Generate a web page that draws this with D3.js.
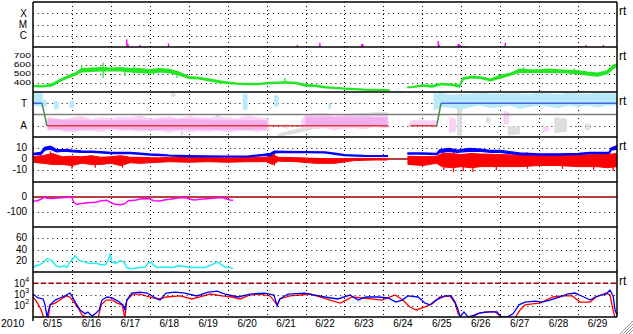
<!DOCTYPE html>
<html>
<head>
<meta charset="utf-8">
<script src="https://cdn.jsdelivr.net/npm/d3@7"></script>
<style>
body { margin: 0; background: #fff; }
svg { display: block; font-family: "Liberation Sans", Arial, sans-serif; }
</style>
</head>
<body>
<script>
// ---- data (time in days from 6/15 00:00) ----
var dayLabels = ['6/15','6/16','6/17','6/18','6/19','6/20','6/21','6/22','6/23','6/24','6/25','6/26','6/27','6/28','6/29'];
var yearLabel = '2010';

// x-ray flares: [t, peak flux W/m2]
var flares = [[2.41,4.8e-7],[2.44,1.9e-7],[2.75,1.5e-7],[3.48,2.1e-7],[3.72,1.2e-7],[6.79,1.5e-7],[7.37,2.3e-7],
  [7.78,1.2e-7],[8.44,1.85e-7],[8.47,1.85e-7],[8.50,1.2e-7],[10.41,3.4e-7],[10.44,1.5e-7],[10.92,1.85e-7],
  [10.94,1.85e-7],[10.97,1.5e-7],[11.10,1.2e-7],[12.13,2.3e-7],[14.20,1.5e-7],[14.65,1.5e-7]];
var flareTicks = [['X',1e-4],['M',1e-5],['C',1e-6]];

// solar wind speed: [t, lo, hi]
var speed = [[0,360,372],[0.25,358,368],[0.5,372,392],[0.75,432,448],[1.0,475,498],[1.1,492,512],[1.25,525,555],
  [1.5,530,565],[1.75,535,570],[2.0,535,565],[2.25,535,570],[2.5,525,560],[2.75,520,560],[3.0,510,545],
  [3.25,525,560],[3.5,515,550],[3.75,490,520],[4.0,452,470],[4.25,446,462],[4.5,428,446],[4.75,408,426],
  [5.0,394,408],[5.25,387,398],[5.5,384,396],[5.75,382,393],[6.0,392,403],[6.25,400,410],[6.5,400,412],
  [6.75,394,406],[7.0,366,384],[7.25,364,376],[7.5,347,360],[7.75,340,350],[8.0,332,343],[8.25,327,336],
  [8.5,322,330],[8.75,320,327],[9.0,318,325],[9.15,317,323],null,[9.63,347,356],[9.75,352,360],[10.0,367,378],
  [10.25,355,372],[10.5,382,395],[10.75,374,388],[10.95,355,375],[11.05,442,458],[11.25,457,472],
  [11.5,452,468],[11.75,425,442],[12.0,455,485],[12.25,485,505],[12.5,520,552],[12.75,518,545],
  [13.0,518,545],[13.25,520,552],[13.5,515,545],[13.75,512,540],[14.0,505,535],[14.25,488,520],
  [14.5,476,508],[14.75,505,535],[14.9,560,595],[15.0,590,612]];
// isolated speed spikes: [t, lo, hi]
var speedSpikes = [[0.44,352,390],[1.25,520,600],[1.8,455,625],[2.36,478,560],[2.6,500,590],[3.1,490,560],
  [3.7,455,520],[6.47,402,452],[12.6,505,575],[13.9,495,560]];
var speedTicks = [700,600,500,400];

// IMF sector line: [t, phi]
var sector = [[0,315],[0.23,315],[0.36,135],[9.12,135],null,[9.68,135],[10.37,135],[10.48,315],[15,315]];
// phi scatter envelopes: [t, lo, hi]
var phiPink = [[0.31,140,160],[0.4,95,205],[0.6,110,190],[0.8,90,180],[1.0,85,200],[1.25,100,210],[1.5,95,185],
  [1.75,90,200],[2.0,110,190],[2.25,95,205],[2.5,100,200],[2.75,90,215],[3.0,100,190],[3.25,95,200],
  [3.5,85,205],[3.75,100,190],[4.0,85,210],[4.25,95,200],[4.5,90,195],[4.75,100,205],[5.0,85,200],
  [5.25,95,190],[5.5,100,215],[5.75,90,200],[6.05,100,190],null,[6.45,120,140],[6.55,115,145],null,
  [6.9,110,180],[7.0,130,220],[7.25,110,230],[7.5,120,235],[7.75,100,210],[8.0,115,220],[8.25,120,230],
  [8.5,110,200],[8.75,130,220],[9.0,120,215],[9.12,125,205],null,[9.68,150,170],[9.9,140,180],
  [10.1,145,175],[10.37,140,175],null,[10.7,80,200],[10.85,90,190],null,[12.1,150,250],[12.22,150,240],
  null,[13.1,90,130],[13.25,95,125]];
// denser core of the pink scatter: [t, lo, hi]
var phiPinkCore = [[0.4,110,185],[1.0,105,180],[2.0,115,175],[3.0,105,180],[4.0,110,185],[5.0,105,175],
  [6.0,110,175],null,[7.0,140,205],[8.0,140,205],[9.1,135,200]];
var phiBlue = [[0,300,395],[0.25,290,390],null,[0.28,290,340],[0.35,295,335],null,[0.55,270,330],[0.65,275,325],
  null,[0.95,280,330],[1.05,285,325],null,[5.4,260,390],[5.5,270,385],null,[6.2,290,380],[6.3,295,370],null,
  [7.6,270,310],[7.65,275,305],null,[10.3,260,390],[10.5,290,395],[10.75,280,380],[11.0,270,385],
  [11.25,290,390],[11.5,300,395],[11.75,280,390],[12.0,290,385],[12.25,300,395],[12.5,275,390],
  [12.75,290,385],[13.0,300,395],[13.25,290,390],[13.5,280,385],[13.75,300,395],[14.0,290,390],
  [14.25,300,385],[14.5,285,395],[14.75,300,390],[15,300,390]];
var phiGray = [[3.55,370,395],[3.65,372,392],null,[3.8,60,90],[3.85,62,88],null,[4.7,150,230],[4.8,155,225],null,
  [5.5,100,200],[5.6,105,195],null,[6.3,50,70],[6.8,80,110],[7.3,120,160],[7.8,170,210],[8.3,200,230],
  [8.8,210,240],[9.1,215,240],null,[10.9,60,380],[11.0,60,370],null,[11.65,160,200],[11.75,165,195],null,
  [12.2,60,130],[12.5,70,125],null,[13.4,80,200],[13.7,90,190],null,[14.2,100,150],[14.3,105,145]];
var phiTicks = [['T',315],['A',135]];

// IMF Bt and Bz: [t, lo, hi]
var bt = [[0,4,5],[0.2,4,6],[0.3,8,10.5],[0.45,9,11.5],[0.6,6.5,8.5],[0.75,7,8.5],[0.9,7,8.5],[1.0,6.5,8],
  [1.25,6,7.2],[1.5,6,7],[1.75,5.5,6.5],[2.0,5,6],[2.5,5,6],[3.0,3.5,4.5],[3.25,3,4],[3.5,2.8,3.5],[4.0,2,3],
  [4.5,2,2.8],[5.0,2,2.5],[5.5,2,2.5],[5.9,3,4],[6.1,3,5],[6.2,5.5,7],[6.5,6,6.8],[7.0,5.8,6.5],[7.5,5.5,6.3],
  [7.8,4,5],[8.0,3,3.8],[8.5,2.5,3.2],[9.1,2.5,3],null,[9.63,4.5,5.5],[10.0,4.5,5.5],[10.37,4,5],[10.45,6,8.5],
  [10.7,7,9.5],[10.9,6,8],[11.2,7,9.5],[11.5,7,8.8],[11.75,6,7.8],[12.0,6,7.8],[12.5,4,5.5],[13.0,3.5,4.5],
  [13.5,3.5,4.5],[14.0,4,5],[14.3,5,6],[14.8,5,6],[14.85,8,10],[15,9,12]];
var bz = [[0,-3,2],[0.25,-4,3],[0.5,-5,5],[0.75,-5,2],[1.0,-6,2.5],[1.25,-4,2],[1.5,-5,3],[1.75,-5,1.5],[2.0,-4,2],
  [2.25,-6,3],[2.5,-3.5,1.5],[2.75,-4,1.5],[3.0,-3.5,1.2],[3.25,-3,1],[3.5,-2.5,1.5],[4.0,-3,1.2],[4.5,-2.5,1.2],
  [5.0,-3,1],[5.5,-2.5,1.2],[6.0,-2.5,1.5],[6.15,-5,4],[6.3,-2,1.5],[6.75,-2.5,1.2],[7.25,-4,0.5],[7.75,-4,0],
  [8.25,-1.5,0.5],[8.75,-1,0.5],[9.1,-1,0.5],null,[9.63,-5,2.5],[10.0,-6,2],[10.37,-4,2.5],[10.5,-7,5],
  [10.75,-8,5],[11.0,-7,4],[11.25,-8,5],[11.5,-7,4.5],[12.0,-7,4],[12.5,-7,3.5],[13.0,-6,3.5],[13.5,-6,3],
  [14.0,-7,3.5],[14.5,-7,4],[14.75,-8,4],[15,-7,5]];
// isolated Bz spikes: [t, lo, hi]
var bzSpikes = [[0.45,-2,7],[1.0,-9,0],[1.6,-8,0],[2.3,-8,0],[6.2,-6,6],[10.55,-10,7],[10.8,-12,8],
  [11.05,-11,0],[11.3,-12,0],[11.9,-10,0],[12.7,-9,6],[13.6,-9,0],[14.4,-10,0],[14.9,-11,0]];
var bTicks = [10,0,-10];

// Dst index: [t, nT]
var dst = [[0,-27],[0.1,-26],[0.2,-15],[0.3,0],[0.35,-8],[0.5,-10],[0.7,-5],[0.85,-3],[0.95,0],[1.0,-5],
  [1.05,-35],[1.12,-50],[1.2,-45],[1.4,-38],[1.6,-35],[1.75,-25],[1.9,-22],[2.0,-38],[2.1,-48],[2.25,-52],
  [2.35,-45],[2.45,-25],[2.65,-20],[2.8,-10],[3.0,-12],[3.1,-25],[3.26,-27],[3.37,-20],[3.52,-15],[3.67,-8],
  [3.83,-3],[3.93,-5],[4.03,-15],[4.14,-20],[4.29,-15],[4.55,-10],[4.75,-5],[4.85,-3],[4.96,-12],[5.06,-20],
  [5.14,-22]];
var dstTicks = [0,-100];

// proton density: [t, n/cc]
var dens = [[0,8],[0.08,11],[0.18,13],[0.28,18],[0.36,24],[0.44,22],[0.51,18],[0.59,11],[0.69,9],[0.8,11],
  [0.87,8],[0.95,18],[1.03,24],[1.08,29],[1.13,25],[1.21,20],[1.31,18],[1.41,16],[1.52,15],[1.62,16],
  [1.72,13],[1.85,13],[1.93,20],[1.98,31],[2.03,18],[2.13,15],[2.23,20],[2.34,18],[2.41,8],[2.54,6],
  [2.75,8],[2.88,9],[2.95,15],[3.03,18],[3.11,11],[3.21,8],[3.39,9],[3.57,8],[3.78,11],[3.96,9],[4.16,8],
  [4.42,8],[4.6,13],[4.73,18],[4.8,15],[4.93,9],[5.06,8],[5.14,6]];
var densTicks = [60,40,20];

// electron flux, two channels: [t, flux]
var fluxBlue = [[0,1100],[0.13,490],[0.26,400],[0.31,120],[0.36,10],[0.39,28],[0.44,120],[0.57,320],[0.69,490],
  [0.82,740],[0.9,1100],[0.95,1350],[1.0,740],[1.1,170],[1.21,42],[1.34,19],[1.41,28],[1.52,12],[1.62,23],
  [1.7,42],[1.77,320],[1.9,600],[2.03,490],[2.18,260],[2.31,120],[2.36,42],[2.41,320],[2.54,1350],
  [2.75,1650],[2.93,1350],[3.06,740],[3.19,400],[3.26,320],[3.42,1350],[3.65,1650],[3.9,1350],[4.21,740],
  [4.5,1650],[4.73,2000],[4.93,1100],[5.27,600],[5.57,1100],[5.96,1350],[6.19,900],[6.27,95],[6.34,400],
  [6.55,1100],[6.99,1350],[7.24,900],[7.5,600],[7.83,400],[8.14,900],[8.35,320],[8.55,600],[8.86,600],
  [9.12,490],[9.32,210],[9.48,320],[9.63,740],[9.89,600],[10.07,170],[10.2,120],[10.35,320],[10.58,740],
  [10.74,740],[10.84,210],[10.92,42],[10.97,10],[11.07,28],[11.17,10],[11.33,15],[11.48,23],[11.74,28],
  [11.92,28],[12.02,10],[12.18,10],[12.33,19],[12.48,120],[12.64,210],[12.9,260],[13.07,210],[13.28,320],
  [13.54,600],[13.72,1100],[13.92,1350],[14.15,600],[14.31,320],[14.44,600],[14.59,900],[14.72,1100],
  [14.82,2500],[14.9,740],[14.95,42],[15,15]];
var fluxRed = [[0,600],[0.1,210],[0.21,42],[0.28,8],[0.39,8],[0.44,120],[0.57,170],[0.69,320],[0.85,740],
  [0.95,600],[1.05,210],[1.16,63],[1.26,15],[1.41,8],[1.67,8],[1.75,120],[1.88,320],[2.03,320],[2.16,170],
  [2.29,120],[2.36,8],[2.41,320],[2.57,1100],[2.75,1100],[2.9,740],[3.08,490],[3.26,400],[3.42,600],
  [3.78,740],[4.08,400],[4.29,600],[4.55,1100],[4.85,740],[5.11,600],[5.32,400],[5.57,900],[5.83,1100],
  [6.09,740],[6.27,120],[6.34,400],[6.6,740],[6.86,900],[7.12,1100],[7.37,600],[7.63,320],[7.89,170],
  [8.04,320],[8.19,600],[8.45,490],[8.71,400],[8.96,320],[9.3,900],[9.5,320],[9.68,78],[9.84,42],
  [10.07,78],[10.25,145],[10.45,600],[10.71,740],[10.84,170],[10.92,19],[11.02,8],[11.28,8],[11.41,19],
  [11.61,28],[11.87,28],[12.07,8],[12.38,8],[12.51,42],[12.64,120],[12.82,145],[13.02,170],[13.18,320],
  [13.36,600],[13.59,740],[13.85,740],[14.05,210],[14.31,210],[14.46,600],[14.59,900],[14.72,1350],
  [14.82,900],[14.9,42],[14.95,8],[15,8]];
var fluxTicks = [4,3,2];

// ---- layout ----
var W = 633, H = 334;
var left = 33, right = 617, top0 = 2, ph = 45;
function pTop(i) { return top0 + i * ph; }
function pBot(i) { return top0 + (i + 1) * ph; }

var x = d3.scaleLinear().domain([0, 15]).range([left, right]);
var yFlare = d3.scaleLog().domain([1e-7, 1e-3]).range([pBot(0), pTop(0)]);
var ySpeed = d3.scaleLinear().domain([300, 800]).range([pBot(1), pTop(1)]);
var yPhi = d3.scaleLinear().domain([45, 405]).range([pBot(2), pTop(2)]);
var yB = d3.scaleLinear().domain([-21, 20]).range([pBot(3), pTop(3)]);
var yDst = d3.scaleLinear().domain([-200, 100]).range([pBot(4), pTop(4)]);
var yDens = d3.scaleLinear().domain([0, 80]).range([pBot(5), pTop(5)]);
var yFlux = d3.scaleLog().domain([10, 1e5]).range([pBot(6), pTop(6)]);

var svg = d3.select('body').append('svg').attr('width', W).attr('height', H);
svg.append('rect').attr('width', W).attr('height', H).attr('fill', '#fff');

var defs = svg.append('defs');
for (var i = 0; i < 7; i++) {
  defs.append('clipPath').attr('id', 'clip' + i).append('rect')
    .attr('x', left).attr('y', pTop(i)).attr('width', right - left).attr('height', ph);
}
function panel(i) { return svg.append('g').attr('clip-path', 'url(#clip' + i + ')'); }

var dots = '1,3.8';
function hDots(y) {
  svg.append('line').attr('x1', left).attr('x2', right).attr('y1', Math.round(y) + 0.5).attr('y2', Math.round(y) + 0.5)
    .attr('stroke', '#000').attr('stroke-width', 1).attr('stroke-dasharray', dots);
}

// vertical day grid
d3.range(1, 15).forEach(function (d) {
  var xx = Math.round(x(d)) + 0.5;
  svg.append('line').attr('x1', xx).attr('x2', xx).attr('y1', top0).attr('y2', pBot(6))
    .attr('stroke', '#000').attr('stroke-width', 1).attr('stroke-dasharray', '1,3');
});

function envelope(s) {
  return d3.area().defined(function (d) { return d != null; })
    .x(function (d) { return x(d[0]); })
    .y0(function (d) { return s(d[1]); })
    .y1(function (d) { return s(d[2]); });
}
function line(s) {
  return d3.line().defined(function (d) { return d != null; })
    .x(function (d) { return x(d[0]); })
    .y(function (d) { return s(d[1]); });
}
function spikes(g, data, s, color) {
  g.selectAll(null).data(data).enter().append('line')
    .attr('x1', function (d) { return x(d[0]); }).attr('x2', function (d) { return x(d[0]); })
    .attr('y1', function (d) { return s(d[1]); }).attr('y2', function (d) { return s(d[2]); })
    .attr('stroke', color).attr('stroke-width', 1.3);
}
function label(txt, xx, yy, size) {
  return svg.append('text').attr('x', xx).attr('y', yy).attr('font-size', size || 10)
    .attr('text-anchor', 'end').attr('dominant-baseline', 'central').text(txt);
}

// panel 0: flares
flareTicks.forEach(function (t) { hDots(yFlare(t[1])); label(t[0], 27, yFlare(t[1])); });
panel(0).selectAll('rect').data(flares).enter().append('rect')
  .attr('x', function (d) { return x(d[0]) - 0.7; }).attr('width', 1.4)
  .attr('y', function (d) { return yFlare(d[1]); })
  .attr('height', function (d) { return yFlare(1e-7) - yFlare(d[1]); })
  .attr('fill', '#ff00ff');

// panel 1: speed (labels wide, tight rows)
speedTicks.forEach(function (t) {
  var yy = ySpeed(t) - 1;
  svg.append('text').attr('font-size', 7.6).attr('text-anchor', 'end').attr('dominant-baseline', 'central')
    .attr('transform', 'translate(31,' + yy + ') scale(1.35,1.05)').text(t);
  hDots(ySpeed(t));
});
var g1 = panel(1);
g1.append('path').datum(speed).attr('d', envelope(ySpeed))
  .attr('fill', '#22e622').attr('stroke', '#22e622').attr('stroke-width', 1.4);
spikes(g1, speedSpikes, ySpeed, '#22e622');

// panel 2: IMF angle
phiTicks.forEach(function (t) { hDots(yPhi(t[1])); label(t[0], 27, yPhi(t[1])); });
var g2 = panel(2);
[[phiGray, '#dedede'], [phiPink, '#f9d2f6'], [phiPinkCore, '#f3aeef'], [phiBlue, '#b6e9fa']].forEach(function (p) {
  g2.append('path').datum(p[0]).attr('d', envelope(yPhi))
    .attr('fill', p[1]).attr('stroke', p[1]).attr('stroke-width', 0.8);
});
g2.append('line').attr('x1', left).attr('x2', right).attr('y1', yPhi(225)).attr('y2', yPhi(225))
  .attr('stroke', '#808080').attr('stroke-width', 1.5);
for (var k = 0; k < sector.length - 1; k++) {
  var a = sector[k], b = sector[k + 1];
  if (!a || !b) continue;
  var col = (a[1] === 315 && b[1] === 315) ? '#4a64e6' : (a[1] === 135 && b[1] === 135) ? '#e03a3a' : '#4e8e4e';
  g2.append('line').attr('x1', x(a[0])).attr('x2', x(b[0])).attr('y1', yPhi(a[1])).attr('y2', yPhi(b[1]))
    .attr('stroke', col).attr('stroke-width', 1.5);
}

// panel 3: B field
bTicks.forEach(function (t) { if (t !== 0) hDots(yB(t)); label(t, 27, yB(t) - 0.5); });
var g3 = panel(3);
g3.append('line').attr('x1', left).attr('x2', right).attr('y1', yB(0)).attr('y2', yB(0))
  .attr('stroke', '#a00000').attr('stroke-width', 1.5);
g3.append('path').datum(bz).attr('d', envelope(yB))
  .attr('fill', '#ff0000').attr('stroke', '#ff0000').attr('stroke-width', 1);
spikes(g3, bzSpikes, yB, '#ff0000');
g3.append('path').datum(bt).attr('d', envelope(yB))
  .attr('fill', '#0000ff').attr('stroke', '#0000ff').attr('stroke-width', 1.4);

// panel 4: Dst
dstTicks.forEach(function (t) { if (t !== 0) hDots(yDst(t)); label(t, 27, yDst(t) - 0.5); });
var g4 = panel(4);
g4.append('line').attr('x1', left).attr('x2', right).attr('y1', yDst(0)).attr('y2', yDst(0))
  .attr('stroke', '#a00000').attr('stroke-width', 1.5);
g4.append('path').datum(dst).attr('d', line(yDst))
  .attr('fill', 'none').attr('stroke', '#ff00ff').attr('stroke-width', 1.5);

// panel 5: density
densTicks.forEach(function (t) { hDots(yDens(t)); label(t, 27, yDens(t) - 0.5); });
panel(5).append('path').datum(dens).attr('d', line(yDens))
  .attr('fill', 'none').attr('stroke', '#22eeee').attr('stroke-width', 1.5);

// panel 6: electron flux
var g6 = panel(6);
fluxTicks.forEach(function (e) {
  var yy = yFlux(Math.pow(10, e));
  if (e === 4) {
    g6.append('line').attr('x1', left).attr('x2', right).attr('y1', yy).attr('y2', yy)
      .attr('stroke', '#a00000').attr('stroke-width', 1.5).attr('stroke-dasharray', '5.5,2.2');
  } else hDots(yy);
  svg.append('text').attr('x', 25).attr('y', yy + 3.5).attr('font-size', 10).attr('text-anchor', 'end').text('10');
  svg.append('text').attr('x', 25.3).attr('y', yy - 1.5).attr('font-size', 7).text(e);
});
g6.append('path').datum(fluxRed).attr('d', line(yFlux))
  .attr('fill', 'none').attr('stroke', '#ff0000').attr('stroke-width', 1.3);
g6.append('path').datum(fluxBlue).attr('d', line(yFlux))
  .attr('fill', 'none').attr('stroke', '#0000ff').attr('stroke-width', 1.3);

// frame
d3.range(0, 8).forEach(function (i) {
  svg.append('line').attr('x1', left).attr('x2', right).attr('y1', pTop(i)).attr('y2', pTop(i))
    .attr('stroke', '#000').attr('stroke-width', 1.6);
});
svg.append('line').attr('x1', left).attr('x2', left).attr('y1', top0).attr('y2', pBot(6) + 4)
  .attr('stroke', '#000').attr('stroke-width', 1.5);
svg.append('line').attr('x1', right).attr('x2', right).attr('y1', top0).attr('y2', pBot(6))
  .attr('stroke', '#000').attr('stroke-width', 1.5);

// right-side "rt" markers
[0, 1, 2, 3, 6].forEach(function (i) {
  svg.append('text').attr('x', 619).attr('y', pTop(i) + 12.5).attr('font-size', 12).text('rt');
});

// bottom labels
dayLabels.forEach(function (s, i) {
  svg.append('text').attr('x', x(i + 0.5)).attr('y', 327).attr('font-size', 10).attr('text-anchor', 'middle').text(s);
});
svg.append('text').attr('x', 1).attr('y', 327).attr('font-size', 10.5).text(yearLabel);

// window grip
[4, 7, 10, 13].forEach(function (k) {
  svg.append('line').attr('x1', W - k).attr('y1', H).attr('x2', W).attr('y2', H - k)
    .attr('stroke', '#999').attr('stroke-width', 1);
});
</script>
</body>
</html>
